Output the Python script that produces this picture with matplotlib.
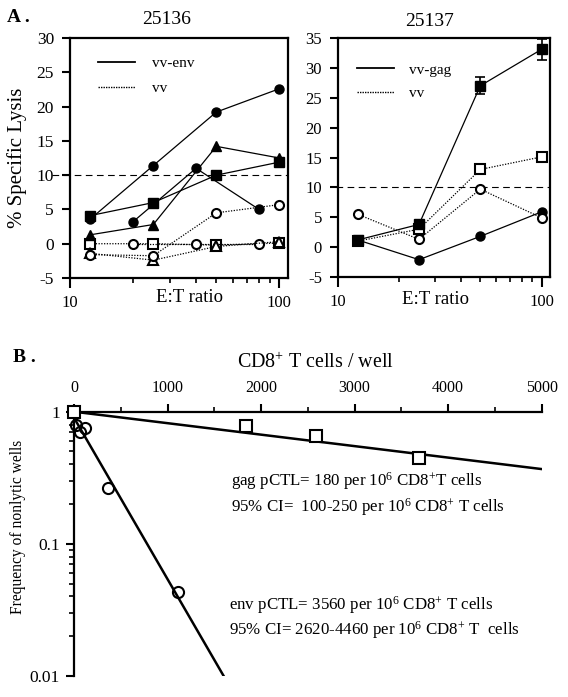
import numpy as np
import matplotlib
matplotlib.use('Agg')
import matplotlib.pyplot as plt
from matplotlib.ticker import FixedLocator, NullFormatter, LogLocator, MultipleLocator

plt.rcParams['font.family'] = ['Liberation Serif', 'DejaVu Serif']
plt.rcParams['mathtext.fontset'] = 'custom'
plt.rcParams['mathtext.rm'] = 'Liberation Serif'
plt.rcParams['mathtext.it'] = 'Liberation Serif:italic'
plt.rcParams['axes.unicode_minus'] = False

# Panel A, monkey 25136 (vv-env solid / vv dotted)
et_a = [12.5, 25, 50, 100]
et_b = [20, 40, 80]
env_circle = [3.6, 11.4, 19.2, 22.6]
env_square = [4.1, 6.0, 10.0, 11.9]
env_triangle = [1.3, 2.8, 14.2, 12.5]
env_round = [3.2, 11.0, 5.0]
vv1_circle = [-1.6, -1.75, 4.5, 5.7]
vv1_square = [0.0, 0.0, -0.2, 0.1]
vv1_triangle = [-1.4, -2.4, -0.4, 0.3]
vv1_round = [0.0, 0.0, 0.0]

# Panel A, monkey 25137 (vv-gag solid / vv dotted)
gag_square = [1.2, 3.8, 27.0, 33.1]
gag_square_err = [0, 0, 1.4, 1.7]
gag_circle = [1.2, -2.1, 1.8, 5.9]
vv2_square = [1.0, 3.0, 13.0, 15.1]
vv2_circle = [5.5, 1.3, 9.7, 4.9]

# Panel B, limiting dilution
gag_cells = [0, 1840, 2590, 3690]
gag_freq = [1.0, 0.78, 0.66, 0.45]
env_cells = [20, 65, 118, 367, 1112]
env_freq = [0.80, 0.70, 0.75, 0.263, 0.043]
gag_fit_x = [0, 5000]
gag_fit_y = [1.0, 0.368]
env_fit_x = [0, 1600]
env_fit_y = [0.9, 0.01]

W, H = 568, 697
fig = plt.figure(figsize=(W / 100, H / 100), dpi=100)


def fx(px):
    return px / W


def fy(py):
    return 1 - py / H


def style_a(ax, ymin, ymax, ysize):
    ax.set_xscale('log')
    ax.set_xlim(10, 110)
    ax.set_ylim(ymin, ymax)
    ax.yaxis.set_major_locator(MultipleLocator(5))
    ax.xaxis.set_major_locator(FixedLocator([10, 100]))
    ax.xaxis.set_minor_locator(FixedLocator([20, 30, 40, 50, 60, 70, 80, 90]))
    ax.xaxis.set_minor_formatter(NullFormatter())
    ax.set_xticklabels(['10', '100'])
    for s in ax.spines.values():
        s.set_linewidth(1.6)
    ax.tick_params(axis='y', which='major', direction='out', length=6, width=1.5,
                   labelsize=ysize, pad=5.5)
    ax.tick_params(axis='x', which='major', direction='out', length=7, width=1.5,
                   labelsize=12, pad=5)
    ax.tick_params(which='minor', direction='out', length=3.8, width=1.2)


solid = dict(color='black', lw=0.9, ms=6.5, clip_on=False)
dotted = dict(color='black', lw=0.9, ls=(0, (1, 1.2)), ms=6.5, mfc='white', mew=1.5, clip_on=False)

# ---- A left
ax1 = fig.add_axes([fx(70), fy(278), fx(218), 240 / H])
style_a(ax1, -5, 30, 12.5)
ax1.axhline(10, xmin=-0.082, xmax=1, color='black', lw=0.8, ls=(0, (6, 4)), clip_on=False)
ax1.plot(et_a, vv1_square, marker='s', **dotted)
ax1.plot(et_b, vv1_round, marker='o', **dotted)
ax1.plot(et_a, vv1_triangle, marker='^', **dotted)
ax1.plot(et_a, vv1_circle, marker='o', **dotted)
ax1.plot(et_a, env_circle, marker='o', **solid)
ax1.plot(et_a, env_square, marker='s', **solid)
ax1.plot(et_a, env_triangle, marker='^', **solid)
ax1.plot(et_b, env_round, marker='o', **solid)
ax1.plot([], [], color='black', lw=1.3, label='vv-env')
ax1.plot([], [], color='black', lw=1.0, ls=(0, (1, 0.8)), label='vv')
ax1.legend(loc='upper left', bbox_to_anchor=(0.128, 0.922), frameon=False, fontsize=11,
           borderpad=0, borderaxespad=0, handlelength=2.45, handletextpad=1.1, labelspacing=0.72)

# ---- A right
ax2 = fig.add_axes([fx(338), fy(277), fx(212), 239 / H])
style_a(ax2, -5, 35, 12)
ax2.axhline(10, xmin=-0.01, xmax=1, color='black', lw=0.8, ls=(0, (6, 4)), clip_on=False)
ax2.plot(et_a, gag_circle, marker='o', **solid)
ax2.errorbar(et_a, gag_square, yerr=gag_square_err, marker='s', color='black', lw=0.9,
             ms=6.5, capsize=3.5, elinewidth=1.2, capthick=1.2, clip_on=False)
ax2.plot(et_a, vv2_circle, marker='o', **dotted)
ax2.plot(et_a, vv2_square, marker='s', **dotted)
ax2.plot([], [], color='black', lw=1.3, label='vv-gag')
ax2.plot([], [], color='black', lw=1.0, ls=(0, (1, 0.8)), label='vv')
ax2.legend(loc='upper left', bbox_to_anchor=(0.088, 0.895), frameon=False, fontsize=11,
           borderpad=0, borderaxespad=0, handlelength=2.45, handletextpad=1.0, labelspacing=0.65)

fig.text(fx(167), fy(19), '25136', ha='center', va='center', fontsize=14)
fig.text(fx(430), fy(21), '25137', ha='center', va='center', fontsize=14)
fig.text(fx(190), fy(298), 'E:T ratio', ha='center', va='center', fontsize=13.5)
fig.text(fx(436), fy(300), 'E:T ratio', ha='center', va='center', fontsize=13.5)
fig.text(fx(17), fy(158), '% Specific Lysis', ha='center', va='center', rotation=90, fontsize=15)
fig.text(fx(7), fy(17), 'A .', ha='left', va='center', fontsize=14, fontweight='bold')
fig.text(fx(13), fy(357), 'B .', ha='left', va='center', fontsize=14, fontweight='bold')

# ---- B
ax3 = fig.add_axes([fx(74), fy(676), fx(467.7), 264.3 / H])
ax3.set_yscale('log')
ax3.set_xlim(0, 5000)
ax3.set_ylim(0.01, 1)
ax3.spines['right'].set_visible(False)
ax3.spines['bottom'].set_visible(False)
for s in ('left', 'top'):
    ax3.spines[s].set_linewidth(1.6)
ax3.xaxis.tick_top()
ax3.xaxis.set_major_locator(MultipleLocator(1000))
ax3.xaxis.set_minor_locator(MultipleLocator(500))
ax3.yaxis.set_major_locator(FixedLocator([0.01, 0.1, 1]))
ax3.yaxis.set_minor_locator(LogLocator(base=10, subs=np.arange(2, 10)))
ax3.yaxis.set_minor_formatter(NullFormatter())
ax3.set_yticklabels(['0.01', '0.1', '1'])
ax3.tick_params(which='major', direction='out', length=6, width=1.5, labelsize=12.5, pad=4)
ax3.tick_params(axis='x', which='major', labelsize=11.5, pad=5)
ax3.tick_params(which='minor', direction='out', length=3.5, width=1.2)
ax3.plot(gag_fit_x, gag_fit_y, color='black', lw=1.8)
ax3.plot(env_fit_x, env_fit_y, color='black', lw=1.8)
ax3.plot(gag_cells, gag_freq, ls='none', marker='s', ms=8, mfc='white', mec='black', mew=1.5,
         clip_on=False, zorder=5)
ax3.plot(env_cells, env_freq, ls='none', marker='o', ms=8, mfc='none', mec='black', mew=1.5,
         clip_on=False, zorder=5)

fig.text(fx(315), fy(363), 'CD8$^{+}$ T cells / well', ha='center', va='center', fontsize=14.4)
fig.text(fx(18), fy(527), 'Frequency of nonlytic wells', ha='center', va='center',
         rotation=90, fontsize=11.2)
fig.text(fx(231), fy(486), 'gag pCTL= 180 per 10$^{6}$ CD8$^{+}$T cells', fontsize=12.2)
fig.text(fx(231), fy(512), '95% CI=  100-250 per 10$^{6}$ CD8$^{+}$ T cells', fontsize=12.2)
fig.text(fx(229), fy(610), 'env pCTL= 3560 per 10$^{6}$ CD8$^{+}$ T cells', fontsize=12.2)
fig.text(fx(229), fy(635), '95% CI= 2620-4460 per 10$^{6}$ CD8$^{+}$ T  cells', fontsize=12.2)

fig.savefig('out.png', dpi=100)
